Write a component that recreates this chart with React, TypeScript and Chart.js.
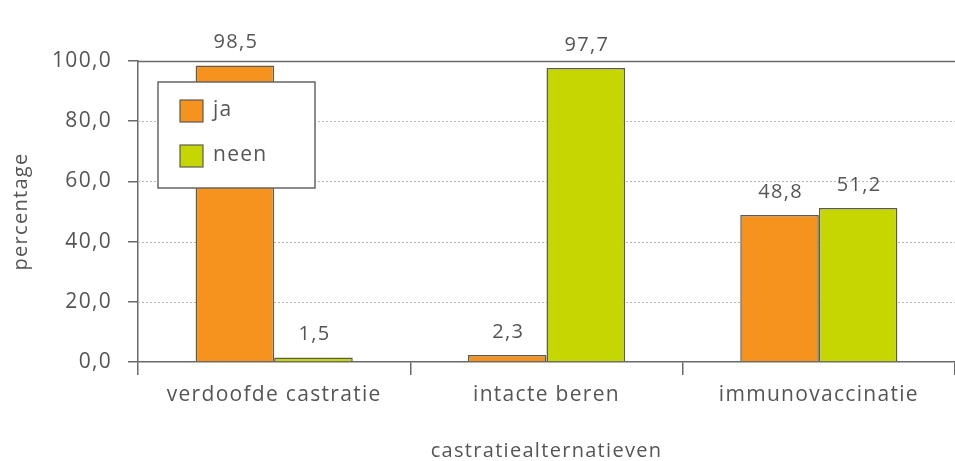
import React, { useEffect, useRef } from "react";
import { Chart, registerables } from "chart.js";

Chart.register(...registerables);

const categories = ["verdoofde castratie", "intacte beren", "immunovaccinatie"];
const jaValues = [98.5, 2.3, 48.8];
const neenValues = [1.5, 97.7, 51.2];
const seriesNames = ["ja", "neen"];
const yTicks = [0, 20, 40, 60, 80, 100];
const yTitle = "percentage";
const xTitle = "castratiealternatieven";

const ORANGE = "#F6921E";
const GREEN = "#C6D600";
const EDGE = "#5b5b55";
const TEXT = "#555555";
const FONT = "'Open Sans', 'DejaVu Sans', sans-serif";
const SPACING = "1.3px";

const fmt = (v: number) => v.toFixed(1).replace(".", ",");

const spacingPlugin = {
  id: "letterSpacing",
  beforeUpdate(chart: any) {
    chart.ctx.letterSpacing = SPACING;
  },
  beforeDraw(chart: any) {
    chart.ctx.letterSpacing = SPACING;
  },
};

const gridPlugin = {
  id: "customGrid",
  beforeDatasetsDraw(chart: any) {
    const { ctx, chartArea } = chart;
    const y = chart.scales.y;
    ctx.save();
    yTicks.forEach((v) => {
      if (v === 0) return;
      const py = Math.round(y.getPixelForValue(v)) + 0.5;
      ctx.beginPath();
      if (v === 100) {
        ctx.setLineDash([]);
        ctx.strokeStyle = "#6a6a6a";
        ctx.lineWidth = 1.5;
      } else {
        ctx.setLineDash([2, 2]);
        ctx.strokeStyle = "#b5b5b5";
        ctx.lineWidth = 1;
      }
      ctx.moveTo(chartArea.left, py);
      ctx.lineTo(chartArea.right, py);
      ctx.stroke();
    });
    ctx.restore();
  },
};

const labelPlugin = {
  id: "valueLabels",
  afterDatasetsDraw(chart: any) {
    const { ctx, chartArea } = chart;
    ctx.save();
    ctx.letterSpacing = SPACING;
    ctx.font = `20px ${FONT}`;
    ctx.fillStyle = TEXT;
    ctx.textAlign = "center";
    ctx.textBaseline = "middle";
    chart.data.datasets.forEach((ds: any, di: number) => {
      const meta = chart.getDatasetMeta(di);
      meta.data.forEach((bar: any, i: number) => {
        ctx.fillText(fmt(ds.data[i]), bar.x + 1, bar.y - 23);
      });
    });
    // x axis title
    ctx.fillText(xTitle, (chartArea.left + chartArea.right) / 2, 451);
    ctx.restore();
  },
};

const legendPlugin = {
  id: "boxLegend",
  afterDraw(chart: any) {
    const { ctx, chartArea } = chart;
    const x0 = chartArea.left + 20;
    const y0 = chartArea.top + 21;
    const w = 157;
    const h = 106;
    ctx.save();
    ctx.letterSpacing = SPACING;
    ctx.fillStyle = "#ffffff";
    ctx.fillRect(x0, y0, w, h);
    ctx.strokeStyle = "#666666";
    ctx.lineWidth = 1.5;
    ctx.strokeRect(x0, y0, w, h);
    ctx.font = `21px ${FONT}`;
    ctx.textBaseline = "middle";
    ctx.textAlign = "left";
    chart.data.datasets.forEach((ds: any, i: number) => {
      const sy = y0 + 18 + i * 45;
      ctx.fillStyle = ds.backgroundColor;
      ctx.fillRect(x0 + 22, sy, 23, 22);
      ctx.strokeStyle = EDGE;
      ctx.lineWidth = 1.2;
      ctx.strokeRect(x0 + 22, sy, 23, 22);
      ctx.fillStyle = TEXT;
      ctx.fillText(ds.label, x0 + 55, sy + 10);
    });
    ctx.restore();
  },
};

export default function App() {
  const ref = useRef<HTMLCanvasElement | null>(null);
  useEffect(() => {
    document.body.style.margin = "0";
    document.body.style.background = "#ffffff";
    const canvas = ref.current!;
    const chart = new Chart(canvas, {
      type: "bar",
      data: {
        labels: categories,
        datasets: [
          {
            label: seriesNames[0],
            data: jaValues,
            backgroundColor: ORANGE,
            borderColor: EDGE,
            borderWidth: 1.5,
          },
          {
            label: seriesNames[1],
            data: neenValues,
            backgroundColor: GREEN,
            borderColor: EDGE,
            borderWidth: 1.5,
          },
        ],
      },
      options: {
        responsive: false,
        animation: false,
        devicePixelRatio: 1,
        layout: { padding: { top: 61, left: 0, right: 0, bottom: 0 } },
        plugins: { legend: { display: false }, tooltip: { enabled: false } },
        datasets: { bar: { barPercentage: 1, categoryPercentage: 0.577 } },
        scales: {
          x: {
            offset: true,
            grid: {
              offset: true,
              drawOnChartArea: false,
              drawTicks: true,
              tickLength: 13,
              color: "#6a6a6a",
              lineWidth: 1.5,
            },
            border: { color: "#6a6a6a", width: 1.5 },
            ticks: {
              color: TEXT,
              font: { family: FONT, size: 21 },
              padding: 7,
              maxRotation: 0,
            },
            title: { display: false },
            afterFit: (s: any) => {
              s.height = 99;
            },
          },
          y: {
            min: 0,
            max: 100,
            afterBuildTicks: (s: any) => {
              s.ticks = yTicks.map((v) => ({ value: v }));
            },
            grid: {
              drawOnChartArea: false,
              drawTicks: true,
              tickLength: 10,
              color: "#6a6a6a",
              lineWidth: 1.5,
            },
            border: { color: "#6a6a6a", width: 1.5 },
            ticks: {
              color: TEXT,
              font: { family: FONT, size: 21 },
              padding: 16,
              callback: (v: any) => fmt(Number(v)),
            },
            title: {
              display: true,
              text: yTitle,
              color: TEXT,
              font: { family: FONT, size: 20 },
              padding: { top: 9, bottom: 0 },
            },
            afterFit: (s: any) => {
              s.width = 138;
            },
          },
        },
      },
      plugins: [spacingPlugin, gridPlugin, labelPlugin, legendPlugin],
    });
    return () => chart.destroy();
  }, []);
  return (
    <div style={{ width: 955, height: 461 }}>
      <canvas ref={ref} width={955} height={461} />
    </div>
  );
}
